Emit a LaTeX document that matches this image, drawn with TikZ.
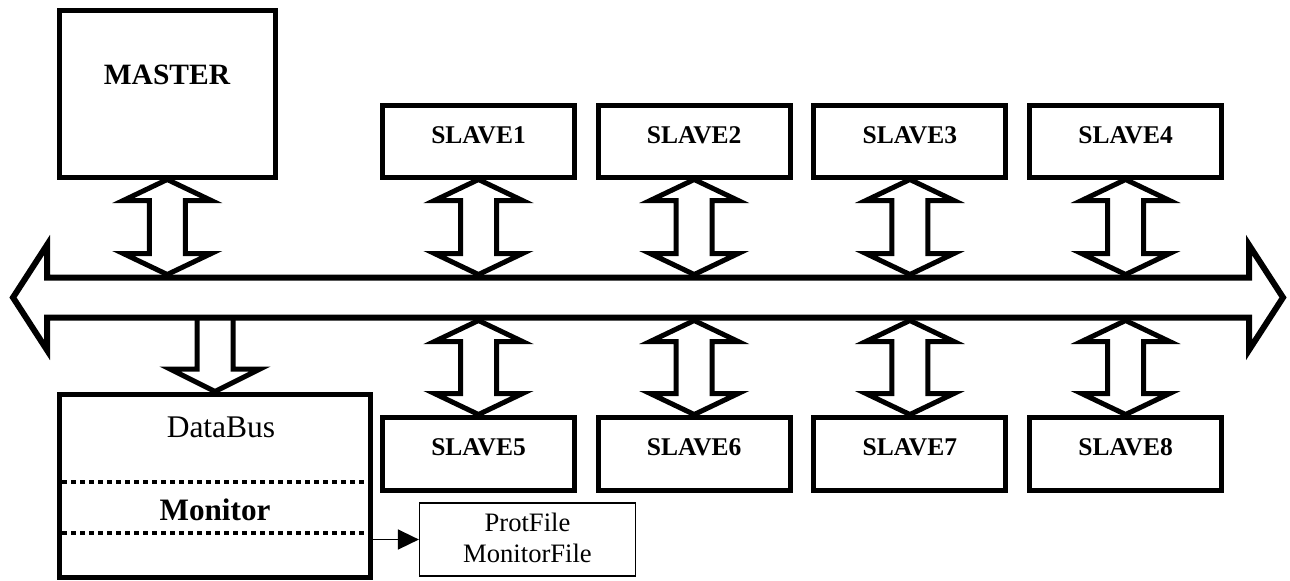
\documentclass[tikz,border=0pt]{standalone}
\usepackage{fontspec}
\setmainfont{Liberation Serif}
\usetikzlibrary{calc,arrows.meta}

% hollow double-headed arrow between a top tip (#1) and a bottom tip (#2)
\newcommand\dualarrow[2]{%
  \draw[bigarrow] (#1) -- ++(44,21) -- ++(-26,0) -- ($(#2)+(18,-21)$)
    -- ++(26,0) -- (#2) -- ++(-44,-21) -- ++(26,0) -- ($(#1)+(-18,21)$)
    -- ++(-26,0) -- cycle;}

\begin{document}
\begin{tikzpicture}[x=0.5pt,y=-0.5pt,line join=miter,
  thickbox/.style={draw,line width=2.5pt,inner sep=0pt},
  slavebox/.style={thickbox,minimum width=96pt,minimum height=#1},
  slavetext/.style={font=\fontsize{12.75}{15}\selectfont\bfseries,inner sep=0pt},
  bigarrow/.style={draw,line width=2.5pt},
  busarrow/.style={draw,line width=3pt},
  divider/.style={line width=2.25pt,dash pattern=on 2.25pt off 2.25pt},
  filebox/.style={draw,line width=0.6pt,inner sep=0pt,minimum width=108pt,minimum height=36.5pt},
  filetext/.style={inner sep=0pt,align=center,font=\fontsize{13.3}{15.5}\selectfont},
  link/.style={line width=0.75pt,-{Triangle[length=10.5pt,width=10pt]}}
]
\useasboundingbox (0,0) rectangle (1290,580);

% the bus: a wide double-headed arrow
\coordinate (busN) at (640,274.5);
\coordinate (busS) at (640,320.5);
\draw[busarrow] (13,297.5) -- (47,245) -- (47,277.5) -- (1249,277.5)
  -- (1249,245) -- (1283,297.5) -- (1249,350) -- (1249,317.5)
  -- (47,317.5) -- (47,350) -- cycle;

% master
\node[thickbox,minimum width=108pt,minimum height=83.5pt] (master) at (167.25,93.5) {};
\node[inner sep=0pt,font=\fontsize{14.75}{17}\selectfont\bfseries] (mastert) at (167,75) {MASTER};
\dualarrow{master.south}{master.south |- busN}

% slaves above and below the bus
\foreach \i/\x in {1/478.5,2/694.2,3/909.9,4/1125.6} {
  \node[slavebox=36pt] (s\i) at (\x,141) {};
  \node[slavetext] (s\i t) at ($(s\i.center)+(0,-6)$) {SLAVE\i};
  \dualarrow{s\i.south}{s\i.south |- busN}
}
\foreach \i/\x in {5/478.5,6/694.2,7/909.9,8/1125.6} {
  \node[slavebox=36.5pt] (s\i) at (\x,453.5) {};
  \node[slavetext] (s\i t) at ($(s\i.center)+(0,-6.5)$) {SLAVE\i};
  \dualarrow{s\i.north |- busS}{s\i.north}
}

% bus monitor
\node[thickbox,minimum width=155.5pt,minimum height=91.75pt] (monbox) at (215,485.75) {};
\node[inner sep=0pt,font=\fontsize{15.75}{18}\selectfont] (dbt) at (221,427) {DataBus};
\node[inner sep=0pt,font=\fontsize{15.6}{18}\selectfont\bfseries] (mont) at (215,510) {Monitor};
\draw[divider] (62,482) -- (368,482);
\draw[divider] (62,533) -- (368,533);

% one-way arrow from the bus into the monitor
\draw[bigarrow] ($(monbox.north |- busS)+(-18,-3)$) -- ($(monbox.north)+(-18,-22.5)$)
  -- ++(-27,0) -- (monbox.north) -- ++(45,-22.5) -- ++(-27,0)
  -- ($(monbox.north |- busS)+(18,-3)$);

% output files
\node[filebox] (prot) at (527.5,539.5) {};
\node[filetext] (prott) at ($(prot.center)+(0,-2)$) {ProtFile\\MonitorFile};
\draw[link] (monbox.east |- prot.west) -- (prot.west);
\end{tikzpicture}
\end{document}
